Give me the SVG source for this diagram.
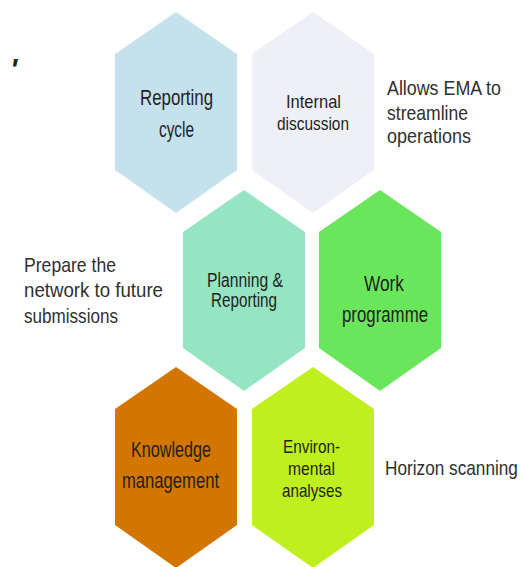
<svg xmlns="http://www.w3.org/2000/svg" width="525" height="567" viewBox="0 0 525 567">
<style>
text{font-family:"Liberation Sans",Arial,sans-serif;fill:#262626}
.n{fill:#1f1f1f}
.o{font-size:21px;fill:#303030}
</style>
<rect width="525" height="567" fill="#ffffff"/>
<g id="connectors"></g>
<g id="mark"><text x="10" y="79" style="font-size:30px;font-style:italic;font-weight:bold" fill="#111">'</text></g>
<g id="reporting-cycle">
<polygon points="176,12 237,54 237,170 176,213 115,170 115,54" fill="#C5E2EC"/>
<text class="n" x="140" y="105" style="font-size:22px" textLength="73" lengthAdjust="spacingAndGlyphs">Reporting</text>
<text class="n" x="159" y="137" style="font-size:22px" textLength="35" lengthAdjust="spacingAndGlyphs">cycle</text>
</g>
<g id="internal-discussion">
<polygon points="313,12 374,54 374,170 313,213 252,170 252,54" fill="#EEEFF7"/>
<text class="n" x="286" y="108" style="font-size:19px" textLength="55" lengthAdjust="spacingAndGlyphs">Internal</text>
<text class="n" x="277" y="130" style="font-size:19px" textLength="72" lengthAdjust="spacingAndGlyphs">discussion</text>
</g>
<g id="planning-reporting">
<polygon points="244,190 305,232 305,348 244,391 183,348 183,232" fill="#95E5C3"/>
<text class="n" x="207" y="287" style="font-size:20px" textLength="76" lengthAdjust="spacingAndGlyphs">Planning &amp;</text>
<text class="n" x="211" y="307" style="font-size:20px" textLength="66" lengthAdjust="spacingAndGlyphs">Reporting</text>
</g>
<g id="work-programme">
<polygon points="380,190 441,232 441,348 380,391 319,348 319,232" fill="#6AE65C"/>
<text class="n" x="364" y="291" style="font-size:22px" textLength="40" lengthAdjust="spacingAndGlyphs">Work</text>
<text class="n" x="342" y="322" style="font-size:22px" textLength="86" lengthAdjust="spacingAndGlyphs">programme</text>
</g>
<g id="knowledge-management">
<polygon points="176,367 237,409 237,525 176,568 115,525 115,409" fill="#D37600"/>
<text class="n" x="131" y="457" style="font-size:22px" textLength="80" lengthAdjust="spacingAndGlyphs">Knowledge</text>
<text class="n" x="122" y="488" style="font-size:22px" textLength="97" lengthAdjust="spacingAndGlyphs">management</text>
</g>
<g id="environmental-analyses">
<polygon points="313,367 374,409 374,525 313,568 252,525 252,409" fill="#BFEF1E"/>
<text class="n" x="283" y="453" style="font-size:19px" textLength="57" lengthAdjust="spacingAndGlyphs">Environ-</text>
<text class="n" x="288" y="475" style="font-size:19px" textLength="47" lengthAdjust="spacingAndGlyphs">mental</text>
<text class="n" x="282" y="497" style="font-size:19px" textLength="60" lengthAdjust="spacingAndGlyphs">analyses</text>
</g>
<g id="label-streamline">
<text class="o" x="387" y="95" textLength="114" lengthAdjust="spacingAndGlyphs">Allows EMA to</text>
<text class="o" x="387" y="120" textLength="81" lengthAdjust="spacingAndGlyphs">streamline</text>
<text class="o" x="387" y="143" textLength="84" lengthAdjust="spacingAndGlyphs">operations</text>
</g>
<g id="label-prepare">
<text class="o" x="24" y="272" textLength="92" lengthAdjust="spacingAndGlyphs">Prepare the</text>
<text class="o" x="24" y="297" textLength="139" lengthAdjust="spacingAndGlyphs">network to future</text>
<text class="o" x="24" y="323" textLength="94" lengthAdjust="spacingAndGlyphs">submissions</text>
</g>
<g id="label-horizon">
<text class="o" transform="translate(385,475) scale(0.82,1)">Horizon scanning</text>
</g>
</svg>
